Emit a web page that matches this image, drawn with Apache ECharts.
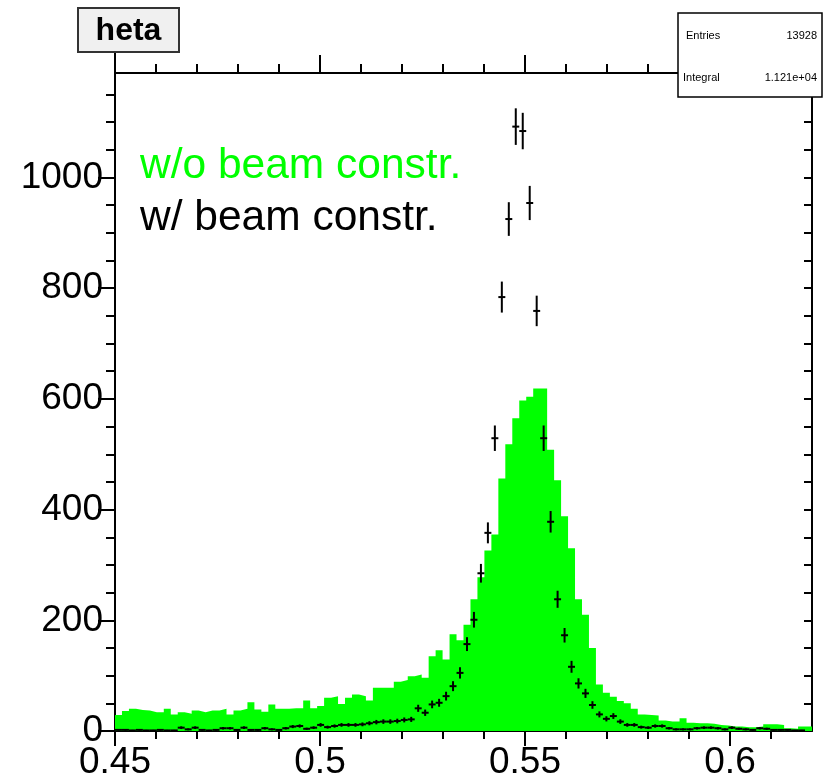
<!DOCTYPE html>
<html>
<head>
<meta charset="utf-8">
<script src="https://cdn.jsdelivr.net/npm/echarts@6/dist/echarts.min.js"></script>
<style>
html,body{margin:0;padding:0;background:#fff;}
#chart{width:826px;height:780px;}
</style>
</head>
<body>
<div id="chart"></div>
<script>
// ---- data ----
const xMin = 0.45;
const xMax = 0.62;
const nBins = 100;
// green histogram (w/o beam constraint), bin contents left to right
const greenCounts = [
  29, 36, 40, 38, 37, 34, 34, 40, 30, 34, 31, 37, 34, 37, 37, 40, 30, 37, 40, 52, 39, 35, 48, 40, 40,
  41, 41, 55, 41, 45, 60, 63, 49, 60, 66, 63, 55, 78, 78, 78, 89, 92, 99, 102, 96, 135, 146, 129, 175, 164,
  192, 238, 278, 326, 355, 456, 518, 565, 597, 604, 619, 619, 508, 453, 388, 330, 238, 210, 150, 84, 69, 62, 54, 50, 40,
  30, 29, 28, 19, 17, 17, 23, 15, 14, 14, 13, 11, 10, 8, 8, 7, 7, 8, 12, 12, 11, 5, 4, 8, 8
];
// black points (w/ beam constraint), bin contents left to right
const blackCounts = [
  2, 2, 1, 2, 1, 1, 2, 1, 1, 6, 3, 6, 2, 1, 2, 5, 5, 2, 6, 2, 2, 5, 3, 2, 5,
  8, 9, 4, 6, 11, 7, 9, 11, 11, 11, 12, 14, 16, 17, 17, 18, 20, 21, 41, 33, 48, 51, 63, 81, 105,
  157, 201, 285, 358, 529, 784, 925, 1092, 1084, 954, 759, 529, 378, 238, 173, 116, 86, 68, 47, 30, 22, 27, 17, 11, 11,
  7, 6, 9, 9, 5, 3, 3, 3, 5, 6, 6, 5, 3, 6, 4, 3, 2, 5, 4, 2, 2, 2, 1, 1, 0
];
const xMajorTicks = [0.45, 0.5, 0.55, 0.6];
const xMinorTicks = [0.46, 0.47, 0.48, 0.49, 0.51, 0.52, 0.53, 0.54, 0.56, 0.57, 0.58, 0.59, 0.61];
const yMajorTicks = [0, 200, 400, 600, 800, 1000];
const yMinorTicks = [50, 100, 150, 250, 300, 350, 450, 500, 550, 650, 700, 750, 850, 900, 950, 1050, 1100, 1150];
const yRightTicks = [50, 100, 150, 200, 250, 300, 350, 400, 450, 500, 550, 600, 650, 700, 750, 800, 850, 900, 950, 1000, 1050, 1100, 1150];
const yMax = 1225;
const histTitle = 'heta';
const statsEntries = '13928';
const statsIntegral = '1.121e+04';
const legendGreen = 'w/o beam constr.';
const legendBlack = 'w/ beam constr.';

// ---- build series data ----
const binWidth = (xMax - xMin) / nBins;
const greenStep = greenCounts.map((v, i) => [xMin + i * binWidth, v]);
greenStep.push([xMax, greenCounts[nBins - 1]]);
const blackPts = [];
blackCounts.forEach((v, i) => { if (v > 0) blackPts.push([xMin + (i + 0.5) * binWidth, v]); });

const FONT = "'Liberation Sans', Arial, Helvetica, sans-serif";
const chart = echarts.init(document.getElementById('chart'), null, {renderer: 'canvas'});

const axisLineStyle = {color: '#000', width: 2};
function xAx(extra) {
  return Object.assign({
    type: 'value', min: xMin, max: xMax, gridIndex: 0,
    splitLine: {show: false},
    axisLine: {show: false, onZero: false, lineStyle: axisLineStyle},
    axisLabel: {show: false},
    axisTick: {show: false}
  }, extra);
}
function yAx(extra) {
  return Object.assign({
    type: 'value', min: 0, max: yMax, gridIndex: 0,
    splitLine: {show: false},
    axisLine: {show: false, onZero: false, lineStyle: axisLineStyle},
    axisLabel: {show: false},
    axisTick: {show: false}
  }, extra);
}

const option = {
  animation: false,
  backgroundColor: '#fff',
  grid: [{left: 115, right: 14, top: 53, bottom: 49, containLabel: false, outerBoundsMode: 'none'}],
  xAxis: [
    xAx({position: 'bottom',
      axisLine: {show: true, onZero: false, lineStyle: axisLineStyle},
      axisTick: {show: true, length: 15, customValues: xMajorTicks, lineStyle: {color: '#000', width: 2}},
      axisLabel: {show: true, customValues: xMajorTicks, color: '#000', fontSize: 37, fontFamily: FONT, margin: 13,
        formatter: v => String(v)}
    }),
    xAx({position: 'bottom',
      axisTick: {show: true, length: 8, customValues: xMinorTicks, lineStyle: {color: '#000', width: 2}}
    }),
    xAx({position: 'top', offset: -20,
      axisLine: {show: true, onZero: false, lineStyle: axisLineStyle},
      axisTick: {show: true, length: 18, customValues: xMajorTicks, lineStyle: {color: '#000', width: 2}}
    }),
    xAx({position: 'top', offset: -20,
      axisTick: {show: true, length: 9, customValues: xMinorTicks, lineStyle: {color: '#000', width: 2}}
    })
  ],
  yAxis: [
    yAx({position: 'left',
      axisLine: {show: true, onZero: false, lineStyle: axisLineStyle},
      axisTick: {show: true, length: 17, customValues: yMajorTicks, lineStyle: {color: '#000', width: 2}},
      axisLabel: {show: true, customValues: yMajorTicks, color: '#000', fontSize: 37, fontFamily: FONT, margin: 12,
        formatter: v => String(v)}
    }),
    yAx({position: 'left',
      axisTick: {show: true, length: 9, customValues: yMinorTicks, lineStyle: {color: '#000', width: 2}}
    }),
    yAx({position: 'right',
      axisLine: {show: true, onZero: false, lineStyle: axisLineStyle},
      axisTick: {show: true, inside: true, length: 8, customValues: yRightTicks, lineStyle: {color: '#000', width: 2}}
    })
  ],
  series: [
    {
      type: 'line', name: legendGreen, xAxisIndex: 0, yAxisIndex: 0,
      step: 'end', symbol: 'none', data: greenStep,
      lineStyle: {width: 0, color: '#00ff00'},
      areaStyle: {color: '#00ff00', opacity: 1},
      z: 1, silent: true
    },
    {
      type: 'custom', name: legendBlack, xAxisIndex: 0, yAxisIndex: 0,
      data: blackPts, z: 3, silent: true,
      renderItem: function (params, api) {
        const x = api.value(0), y = api.value(1);
        const e = Math.sqrt(y);
        const pL = api.coord([x - binWidth / 2, y]);
        const pR = api.coord([x + binWidth / 2, y]);
        const pT = api.coord([x, y + e]);
        const pB = api.coord([x, Math.max(0, y - e)]);
        const st = {stroke: '#000', lineWidth: 2};
        return {type: 'group', children: [
          {type: 'line', shape: {x1: pL[0], y1: pL[1], x2: pR[0], y2: pR[1]}, style: st},
          {type: 'line', shape: {x1: pT[0], y1: pT[1], x2: pB[0], y2: pB[1]}, style: st}
        ]};
      }
    }
  ],
  graphic: [
    {type: 'rect', z: 100, shape: {x: 78, y: 8, width: 101, height: 44},
     style: {fill: '#f0f0f0', stroke: '#333', lineWidth: 2}},
    {type: 'text', z: 101, x: 128.5, y: 31,
     style: {text: histTitle, fill: '#000', font: "bold 32px " + FONT, textAlign: 'center', textVerticalAlign: 'middle'}},
    {type: 'rect', z: 100, shape: {x: 678, y: 13, width: 144, height: 84},
     style: {fill: '#fff', stroke: '#000', lineWidth: 1.5}},
    {type: 'text', z: 101, x: 686, y: 36,
     style: {text: 'Entries', fill: '#000', font: "11px " + FONT, textAlign: 'left', textVerticalAlign: 'middle'}},
    {type: 'text', z: 101, x: 817, y: 36,
     style: {text: statsEntries, fill: '#000', font: "11px " + FONT, textAlign: 'right', textVerticalAlign: 'middle'}},
    {type: 'text', z: 101, x: 683, y: 78,
     style: {text: 'Integral', fill: '#000', font: "11px " + FONT, textAlign: 'left', textVerticalAlign: 'middle'}},
    {type: 'text', z: 101, x: 817, y: 78,
     style: {text: statsIntegral, fill: '#000', font: "11px " + FONT, textAlign: 'right', textVerticalAlign: 'middle'}},
    {type: 'text', z: 101, x: 140, y: 166,
     style: {text: legendGreen, fill: '#00ff00', font: "42.5px " + FONT, textAlign: 'left', textVerticalAlign: 'middle'}},
    {type: 'text', z: 101, x: 140, y: 218,
     style: {text: legendBlack, fill: '#000', font: "42.5px " + FONT, textAlign: 'left', textVerticalAlign: 'middle'}}
  ]
};
chart.setOption(option);
</script>
</body>
</html>
